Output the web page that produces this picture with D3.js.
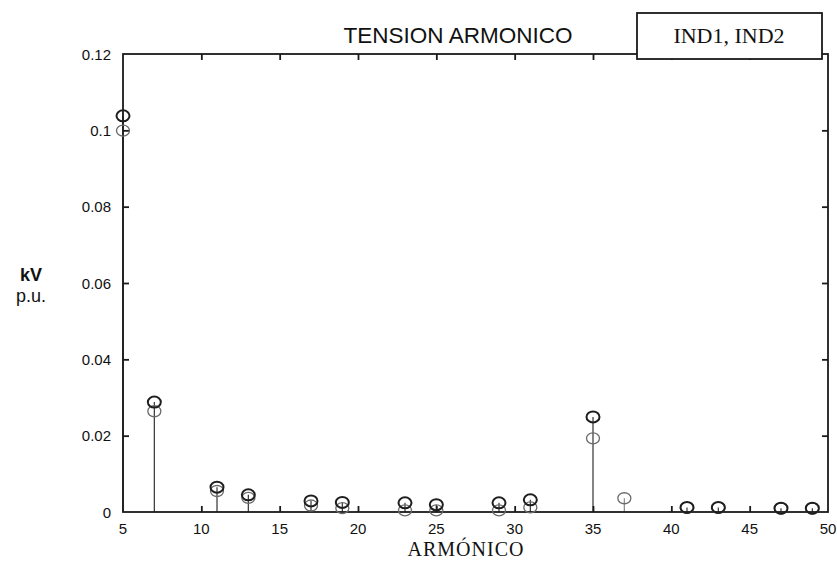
<!DOCTYPE html>
<html>
<head>
<meta charset="utf-8">
<script src="https://cdn.jsdelivr.net/npm/d3@7"></script>
<style>
  html, body { margin: 0; padding: 0; background: #fff; }
  svg { display: block; }
</style>
</head>
<body>
<svg id="chart" width="837" height="561"></svg>
<script>
// Harmonic orders and per-unit voltage magnitudes for each case
const harmonics = [5, 7, 11, 13, 17, 19, 23, 25, 29, 31, 35, 37, 41, 43, 47, 49];
const ind1 = [0.1038, 0.0288, 0.0065, 0.0045, 0.0029, 0.0025, 0.0024, 0.0019, 0.0024, 0.0032, 0.0249, null, 0.0012, 0.0012, 0.0010, 0.0010];
const ind2 = [0.0999, 0.0264, 0.0055, 0.0037, 0.0017, 0.0010, 0.0004, 0.0004, 0.0004, 0.0012, 0.0193, 0.0036, 0.0011, 0.0011, 0.0009, 0.0009];
const xTicks = [5, 10, 15, 20, 25, 30, 35, 40, 45, 50];
const yTicks = [0, 0.02, 0.04, 0.06, 0.08, 0.1, 0.12];
const yTickLabels = ["0", "0.02", "0.04", "0.06", "0.08", "0.1", "0.12"];

const svg = d3.select("#chart");
const plotL = 123, plotR = 828, plotT = 54, plotB = 512;

const x = d3.scaleLinear().domain([5, 50]).range([plotL, plotR]);
const y = d3.scaleLinear().domain([0, 0.12]).range([plotB, plotT]);

const sans = "'Liberation Sans', Arial, Helvetica, sans-serif";
const serif = "'Liberation Serif', 'Times New Roman', serif";

// Stems: one vertical line per harmonic up to the larger of the two cases
const g = svg.append("g");
harmonics.forEach((h, i) => {
  const a = ind1[i], b = ind2[i];
  const peak = Math.max(a == null ? 0 : a, b == null ? 0 : b);
  g.append("line")
    .attr("x1", x(h)).attr("x2", x(h))
    .attr("y1", y(0)).attr("y2", y(peak))
    .attr("stroke", a == null ? "#888" : "#333")
    .attr("stroke-width", 1.2);
});

// Frame with inward ticks on all four sides
const axisColor = "#1a1a1a";
const axB = d3.axisBottom(x).tickValues(xTicks.slice(1, -1)).tickSize(-6).tickFormat("");
const axT = d3.axisTop(x).tickValues(xTicks.slice(1, -1)).tickSize(-6).tickFormat("");
const axL = d3.axisLeft(y).tickValues(yTicks.slice(1, -1)).tickSize(-6).tickFormat("");
const axR = d3.axisRight(y).tickValues(yTicks.slice(1, -1)).tickSize(-6).tickFormat("");

function styleAxis(sel) {
  sel.select(".domain").remove();
  sel.selectAll(".tick line").attr("stroke", axisColor).attr("stroke-width", 1.8);
}
svg.append("g").attr("transform", `translate(0,${plotB})`).call(axB).call(styleAxis);
svg.append("g").attr("transform", `translate(0,${plotT})`).call(axT).call(styleAxis);
svg.append("g").attr("transform", `translate(${plotL},0)`).call(axL).call(styleAxis);
svg.append("g").attr("transform", `translate(${plotR},0)`).call(axR).call(styleAxis);

svg.append("rect")
  .attr("x", plotL).attr("y", plotT)
  .attr("width", plotR - plotL).attr("height", plotB - plotT)
  .attr("fill", "none").attr("stroke", axisColor).attr("stroke-width", 1.8);

// Tick labels
svg.append("g").selectAll("text").data(xTicks).join("text")
  .attr("x", d => x(d)).attr("y", plotB + 22)
  .attr("text-anchor", "middle")
  .attr("font-family", sans).attr("font-size", 15).attr("fill", "#111")
  .text(d => d);

svg.append("g").selectAll("text").data(yTicks).join("text")
  .attr("x", plotL - 12).attr("y", d => y(d) + 5.5)
  .attr("text-anchor", "end")
  .attr("font-family", sans).attr("font-size", 15).attr("fill", "#111")
  .text((d, i) => yTickLabels[i]);

// Markers: second case in lighter grey underneath, first case darker on top
const pts2 = harmonics.map((h, i) => ({ h, v: ind2[i] })).filter(d => d.v != null);
const pts1 = harmonics.map((h, i) => ({ h, v: ind1[i] })).filter(d => d.v != null);

svg.append("g").selectAll("ellipse").data(pts2).join("ellipse")
  .attr("cx", d => x(d.h)).attr("cy", d => y(d.v))
  .attr("rx", 6.5).attr("ry", 5.5)
  .attr("fill", "none").attr("stroke", "#6a6a6a").attr("stroke-width", 1.3);

svg.append("g").selectAll("ellipse").data(pts1).join("ellipse")
  .attr("cx", d => x(d.h)).attr("cy", d => y(d.v))
  .attr("rx", 6.5).attr("ry", 5.5)
  .attr("fill", "none").attr("stroke", "#1e1e1e").attr("stroke-width", 2);

// Title
svg.append("text")
  .attr("x", 458).attr("y", 43)
  .attr("text-anchor", "middle")
  .attr("font-family", sans).attr("font-size", 22.5).attr("fill", "#111")
  .text("TENSION ARMONICO");

// Legend box
svg.append("rect")
  .attr("x", 637).attr("y", 13).attr("width", 185).attr("height", 46)
  .attr("fill", "#fff").attr("stroke", axisColor).attr("stroke-width", 1.8);
svg.append("text")
  .attr("x", 729).attr("y", 43)
  .attr("text-anchor", "middle")
  .attr("font-family", serif).attr("font-size", 22).attr("fill", "#111")
  .text("IND1, IND2");

// Axis titles
svg.append("text")
  .attr("x", 466).attr("y", 556)
  .attr("text-anchor", "middle")
  .attr("font-family", serif).attr("font-size", 20).attr("letter-spacing", 1)
  .attr("fill", "#111")
  .text("ARMÓNICO");

svg.append("text")
  .attr("x", 31).attr("y", 281)
  .attr("text-anchor", "middle")
  .attr("font-family", sans).attr("font-size", 18).attr("font-weight", 600).attr("fill", "#111")
  .text("kV");
svg.append("text")
  .attr("x", 31).attr("y", 302)
  .attr("text-anchor", "middle")
  .attr("font-family", sans).attr("font-size", 18).attr("fill", "#111")
  .text("p.u.");
</script>
</body>
</html>
